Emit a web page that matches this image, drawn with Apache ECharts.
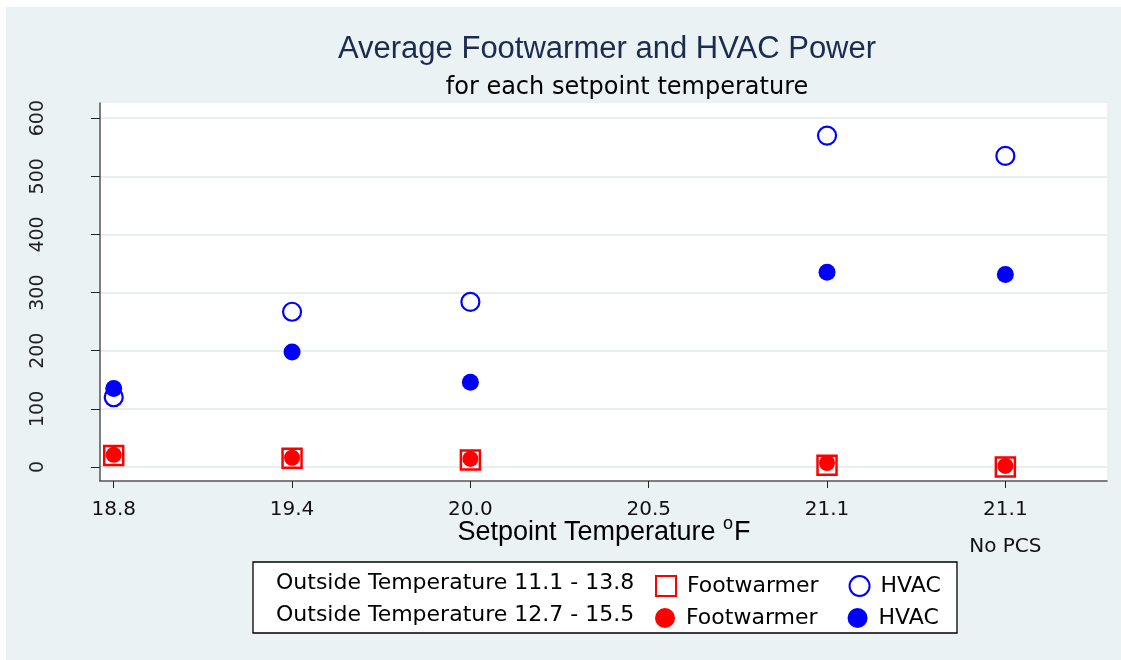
<!DOCTYPE html>
<html>
<head>
<meta charset="utf-8">
<script src="https://cdn.jsdelivr.net/npm/echarts@6/dist/echarts.min.js"></script>
<style>
  html, body { margin: 0; padding: 0; background: #fff; }
  #chart { width: 1121px; height: 660px; }
</style>
</head>
<body>
<div id="chart"></div>
<script>
// setpoint positions on the x axis and their labels
const xPos = [1, 2, 3, 4, 5, 6]
const xLabels = ['18.8', '19.4', '20.0', '20.5', '21.1', '21.1\nNo PCS']
// positions that hold measurements (20.5 has none)
const dataPos = [1, 2, 3, 5, 6]

// outside temperature 11.1 - 13.8
const footA = [20, 15, 12, 3, 0]
const hvacA = [120, 267, 284, 570, 535]
// outside temperature 12.7 - 15.5
const footB = [21, 16, 14, 7, 2]
const hvacB = [135, 198, 146, 335, 331]

const yTicks = [0, 100, 200, 300, 400, 500, 600]

const pair = (vals) => vals.map((v, i) => [dataPos[i], v])

const chart = echarts.init(document.getElementById('chart'))

const sans = 'Liberation Sans, Arial, sans-serif'
const wide = 'DejaVu Sans, sans-serif'

const legendText = { fontSize: 22, color: '#000', fontFamily: wide, padding: [0, 0, 0, 6] }

const option = {
  backgroundColor: '#fff',
  animation: false,
  textStyle: { fontFamily: wide },
  graphic: [
    {
      type: 'rect', z: -10, silent: true,
      shape: { x: 6, y: 7, width: 1121, height: 660 },
      style: { fill: '#eaf2f3' }
    },
    {
      type: 'rect', z: 10,
      shape: { x: 253, y: 562, width: 704, height: 71 },
      style: { fill: '#fff', stroke: '#000', lineWidth: 1.3 }
    },
    {
      type: 'text', z: 11, x: 276, y: 583,
      style: { text: 'Outside Temperature 11.1 - 13.8', fontSize: 22, fill: '#000', fontFamily: wide, verticalAlign: 'middle' }
    },
    {
      type: 'text', z: 11, x: 276, y: 615,
      style: { text: 'Outside Temperature 12.7 - 15.5', fontSize: 22, fill: '#000', fontFamily: wide, verticalAlign: 'middle' }
    },
    {
      type: 'text', z: 11, x: 604, y: 533,
      style: {
        text: 'Setpoint Temperature {sup|o}F',
        fontSize: 27, fill: '#000', fontFamily: sans,
        align: 'center', verticalAlign: 'middle',
        rich: {
          sup: { fontSize: 18, fill: '#000', fontFamily: sans, padding: [0, 1, 18, 0] }
        }
      }
    }
  ],
  title: [
    {
      text: 'Average Footwarmer and HVAC Power',
      left: 602, top: 29, textAlign: 'center',
      textStyle: { fontSize: 31, fontWeight: 'normal', color: '#1c2b4f', fontFamily: sans }
    },
    {
      text: 'for each setpoint temperature',
      left: 622, top: 71, textAlign: 'center',
      textStyle: { fontSize: 24, fontWeight: 'normal', color: '#000', fontFamily: wide }
    }
  ],
  legend: [
    {
      top: 570, left: 650, z: 12,
      itemGap: 30, itemWidth: 20, itemHeight: 20,
      data: ['Footwarmer A', 'HVAC A'],
      formatter: (n) => n.replace(/ [AB]$/, ''),
      textStyle: legendText
    },
    {
      top: 602, left: 650, z: 12,
      itemGap: 30, itemWidth: 20, itemHeight: 20,
      data: ['Footwarmer B', 'HVAC B'],
      formatter: (n) => n.replace(/ [AB]$/, ''),
      textStyle: legendText
    }
  ],
  grid: {
    left: 100, right: 14, top: 103, bottom: 179,
    show: true, backgroundColor: '#fff', borderWidth: 0
  },
  xAxis: {
    type: 'value',
    min: 0.923, max: 6.57,
    axisLine: { onZero: false, lineStyle: { color: '#555', width: 1.5 } },
    axisTick: { length: 7, customValues: xPos, lineStyle: { color: '#222' } },
    axisLabel: {
      customValues: xPos,
      fontSize: 20, color: '#111', margin: 10, lineHeight: 37,
      formatter: (v) => xLabels[Math.round(v) - 1]
    },
    splitLine: { show: false }
  },
  yAxis: {
    type: 'value',
    min: -24, max: 626,
    axisLine: { show: true, lineStyle: { color: '#555', width: 1.5 } },
    axisTick: { show: true, length: 9, customValues: yTicks, lineStyle: { color: '#222' } },
    axisLabel: {
      customValues: yTicks,
      fontSize: 19, color: '#222', rotate: 90, margin: 52
    },
    splitLine: { show: true, lineStyle: { color: '#e9eff1', width: 2 } }
  },
  series: [
    {
      name: 'Footwarmer A', type: 'scatter', symbol: 'rect', symbolSize: 19,
      itemStyle: { color: '#fff', opacity: 1, borderColor: '#ff0000', borderWidth: 2.5 },
      data: pair(footA), z: 2
    },
    {
      name: 'HVAC A', type: 'scatter', symbol: 'circle', symbolSize: 18,
      itemStyle: { color: 'rgba(255,255,255,0)', opacity: 1, borderColor: '#0000ff', borderWidth: 2.2 },
      data: pair(hvacA), z: 2
    },
    {
      name: 'Footwarmer B', type: 'scatter', symbol: 'circle', symbolSize: 16,
      itemStyle: { color: '#ff0000', opacity: 1 },
      data: pair(footB), z: 3
    },
    {
      name: 'HVAC B', type: 'scatter', symbol: 'circle', symbolSize: 17,
      itemStyle: { color: '#0000ff', opacity: 1 },
      data: pair(hvacB), z: 3
    }
  ]
}

chart.setOption(option)
</script>
</body>
</html>
